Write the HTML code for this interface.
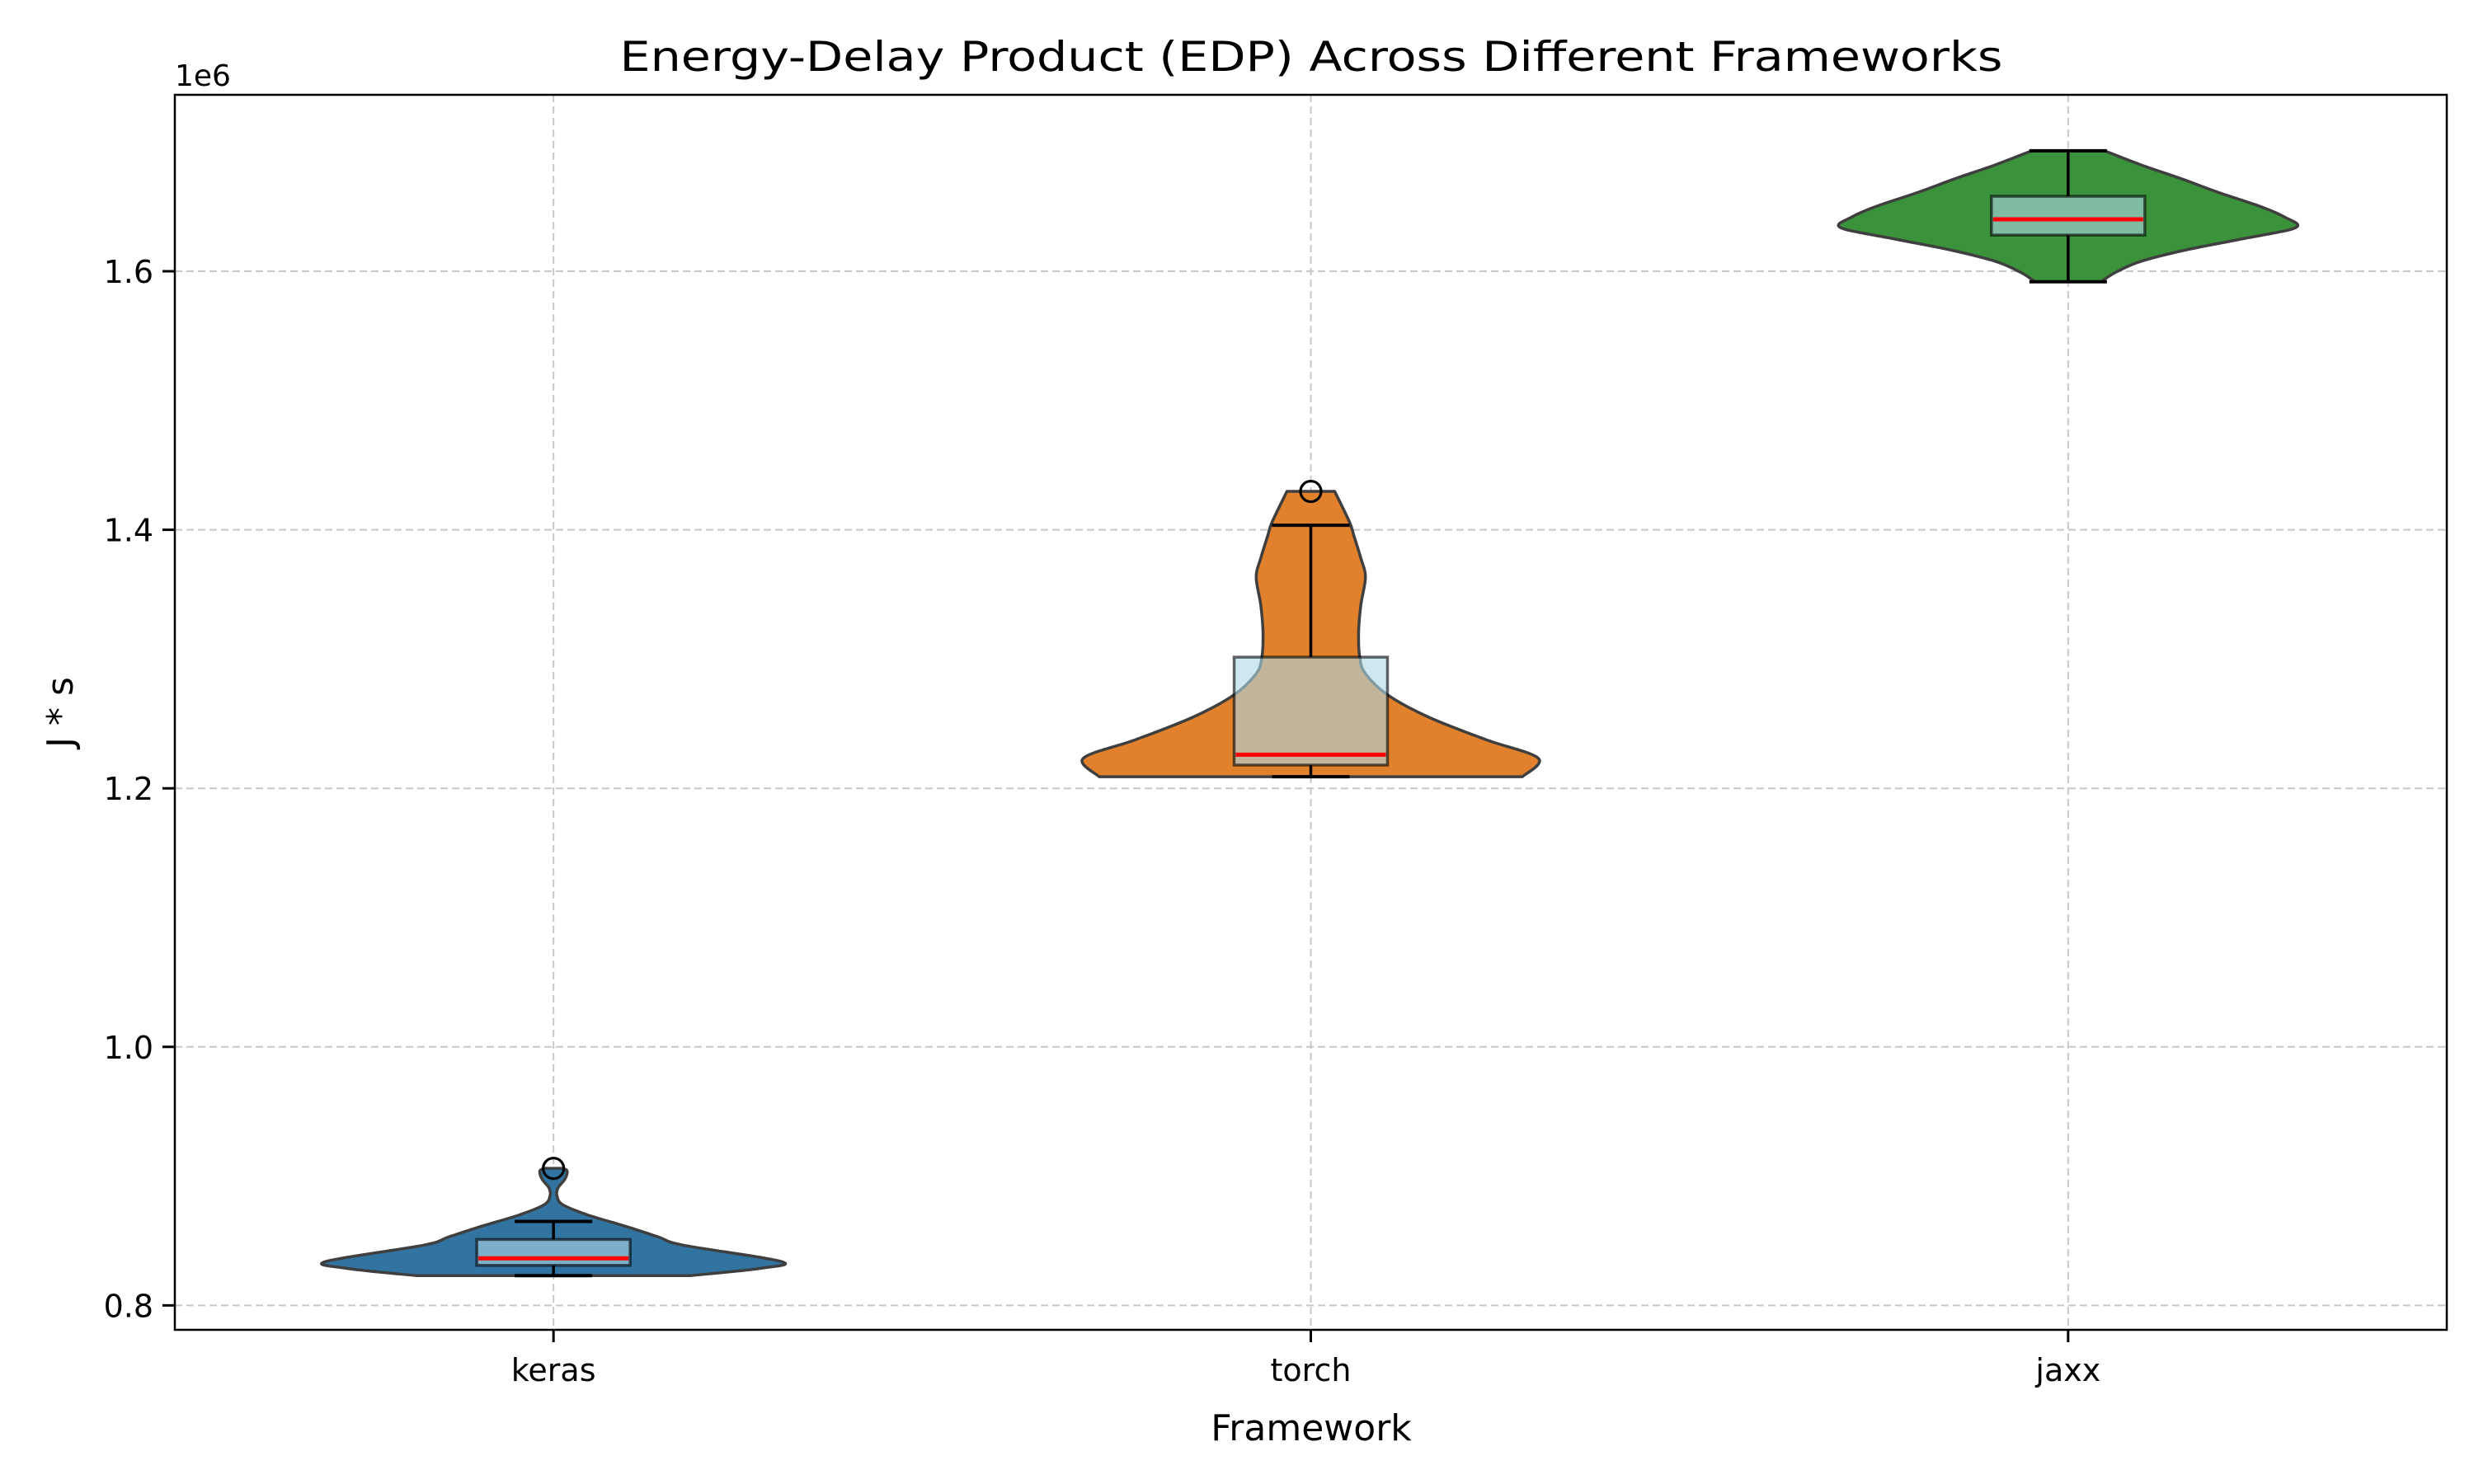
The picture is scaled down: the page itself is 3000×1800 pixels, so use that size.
<!DOCTYPE html>
<html><head><meta charset="utf-8"><style>
html,body{margin:0;padding:0;background:#fff;}
svg{display:block;font-family:"DejaVu Sans","Liberation Sans",sans-serif;}
</style></head><body>
<svg id="chart" width="3000" height="1800" viewBox="0 0 3000 1800" xmlns="http://www.w3.org/2000/svg">
<rect x="0" y="0" width="3000" height="1800" fill="#fff"/>
<g id="grid"></g>
<g id="violins"></g>
<g id="boxes"></g>
<rect x="212" y="115" width="2755" height="1498" fill="none" stroke="#000" stroke-width="2.5"/>
<g id="ticks"></g>
<text x="212" y="104" font-size="36">1e6</text>
<text x="1590" y="86" font-size="50" text-anchor="middle" textLength="1677" lengthAdjust="spacingAndGlyphs">Energy-Delay Product (EDP) Across Different Frameworks</text>
<text x="1590" y="1747" font-size="44" text-anchor="middle">Framework</text>
<text transform="translate(88,864) rotate(-90)" font-size="44" text-anchor="middle">J * s</text>
</svg>
<script>
const categories = ["keras", "torch", "jaxx"];
const yTicks = [0.8, 1.0, 1.2, 1.4, 1.6];
const yTickLabels = ["0.8", "1.0", "1.2", "1.4", "1.6"];
// box statistics (x1e6): lower whisker, Q1, median, Q3, upper whisker
const whiskerLow = [0.823, 1.209, 1.5919];
const q1 = [0.831, 1.218, 1.628];
const medians = [0.8364, 1.226, 1.6402];
const q3 = [0.851, 1.3015, 1.658];
const whiskerHigh = [0.865, 1.4035, 1.6932];
const outliers = [[0.906], [1.4297], []];
// violin density profiles (value levels and relative density)
const kerasLevels = [0.823, 0.8287, 0.834, 0.8466, 0.853, 0.861, 0.870, 0.878, 0.885, 0.891, 0.8976, 0.904, 0.906];
const kerasDensity = [0.6, 0.91, 1.0, 0.57, 0.46, 0.32, 0.15, 0.04, 0.015, 0.02, 0.05, 0.06, 0.04];
const torchLevels = [1.209, 1.2232, 1.2376, 1.2549, 1.272, 1.2887, 1.3014, 1.3206, 1.342, 1.3633, 1.378, 1.395, 1.406, 1.4297];
const torchDensity = [0.93, 1.0, 0.77, 0.52, 0.34, 0.24, 0.215, 0.21, 0.22, 0.24, 0.22, 0.19, 0.17, 0.105];
const jaxxLevels = [1.5919, 1.5993, 1.6077, 1.6166, 1.6249, 1.6338, 1.642, 1.6504, 1.661, 1.6714, 1.6823, 1.6932];
const jaxxDensity = [0.145, 0.21, 0.32, 0.52, 0.76, 1.0, 0.95, 0.84, 0.66, 0.50, 0.32, 0.16];

const violinColors = ["#3274a1", "#e1812c", "#3a923a"];
const NS = "http://www.w3.org/2000/svg";
const L = 212, R = 2967, T = 115, B = 1613;
const yMin = 0.7811, yMax = 1.7365;
function y(v) { return B - (v - yMin) / (yMax - yMin) * (B - T); }
function x(i) { return L + (i + 0.5) / categories.length * (R - L); }
const halfMax = 276;
function mk(tag, attrs, parent) {
  const e = document.createElementNS(NS, tag);
  for (const k in attrs) e.setAttribute(k, attrs[k]);
  parent.appendChild(e);
  return e;
}
const grid = document.getElementById("grid");
const ticks = document.getElementById("ticks");
yTicks.forEach((t, i) => {
  const g = mk("line", {x1: L, x2: R, y1: y(t), y2: y(t), stroke: "#c8c8c8", "stroke-width": 2, "stroke-dasharray": "9,5"}, grid);
  
  
  const tk = mk("line", {x1: L - 15, x2: L, y1: y(t), y2: y(t), stroke: "#000", "stroke-width": 3}, ticks);
  
  
  const lb = mk("text", {x: L - 26, y: y(t) + 14, "font-size": 38, "text-anchor": "end"}, ticks);
  lb.textContent = yTickLabels[i];
  
  
});
categories.forEach((c, i) => {
  const g = mk("line", {x1: x(i), x2: x(i), y1: T, y2: B, stroke: "#c8c8c8", "stroke-width": 2, "stroke-dasharray": "9,5"}, grid);
  
  
  const tk = mk("line", {x1: x(i), x2: x(i), y1: B, y2: B + 15, stroke: "#000", "stroke-width": 3}, ticks);
  
  
  const lb = mk("text", {x: x(i), y: B + 62, "font-size": 38, "text-anchor": "middle"}, ticks);
  lb.textContent = c;
  
  
});
const profiles = [[kerasLevels, kerasDensity], [torchLevels, torchDensity], [jaxxLevels, jaxxDensity]];
const vg = document.getElementById("violins");
function smooth(arr) {
  let d = "";
  for (let k = 0; k < arr.length - 1; k++) {
    const p0 = arr[Math.max(k - 1, 0)], p1 = arr[k], p2 = arr[k + 1], p3 = arr[Math.min(k + 2, arr.length - 1)];
    const c1 = [p1[0] + (p2[0] - p0[0]) / 6, p1[1] + (p2[1] - p0[1]) / 6];
    const c2 = [p2[0] - (p3[0] - p1[0]) / 6, p2[1] - (p3[1] - p1[1]) / 6];
    d += ` C${c1[0]},${c1[1]} ${c2[0]},${c2[1]} ${p2[0]},${p2[1]}`;
  }
  return d;
}
profiles.forEach((p, i) => {
  const lv = p[0], dn = p[1], cx = x(i);
  const right = lv.map((v, k) => [cx + dn[k] * halfMax, y(v)]);
  const left = lv.map((v, k) => [cx - dn[k] * halfMax, y(v)]).reverse();
  const d = `M${right[0][0]},${right[0][1]}` + smooth(right) + ` L${left[0][0]},${left[0][1]}` + smooth(left) + " Z";
  const path = mk("path", {d: d, fill: violinColors[i], stroke: "#3f3f3f", "stroke-width": 3.5, "stroke-linejoin": "round"}, vg);
  
  
});
const bg = document.getElementById("boxes");
categories.forEach((c, i) => {
  const cx = x(i), bw = 186, cw = 94;
  const wl = mk("line", {x1: cx, x2: cx, y1: y(whiskerLow[i]), y2: y(q1[i]), stroke: "#000", "stroke-width": 3.5}, bg);
  
  
  const wh = mk("line", {x1: cx, x2: cx, y1: y(q3[i]), y2: y(whiskerHigh[i]), stroke: "#000", "stroke-width": 3.5}, bg);
  
  
  [whiskerLow[i], whiskerHigh[i]].forEach(v => {
    const cap = mk("line", {x1: cx - cw / 2, x2: cx + cw / 2, y1: y(v), y2: y(v), stroke: "#000", "stroke-width": 4}, bg);
    
    
  });
  const box = mk("rect", {x: cx - bw / 2, y: y(q3[i]), width: bw, height: y(q1[i]) - y(q3[i]), fill: "#add8e6", "fill-opacity": 0.6, stroke: "#000", "stroke-opacity": 0.6, "stroke-width": 3.5}, bg);
  
  
  const med = mk("line", {x1: cx - bw / 2 + 2, x2: cx + bw / 2 - 2, y1: y(medians[i]), y2: y(medians[i]), stroke: "#ff0000", "stroke-width": 5}, bg);
  
  
  outliers[i].forEach(v => {
    const o = mk("ellipse", {cx: cx, cy: y(v), rx: 12.5, ry: 12.5, fill: "none", stroke: "#000", "stroke-width": 3.2}, bg);
    
    
  });
});
</script>
</body></html>
